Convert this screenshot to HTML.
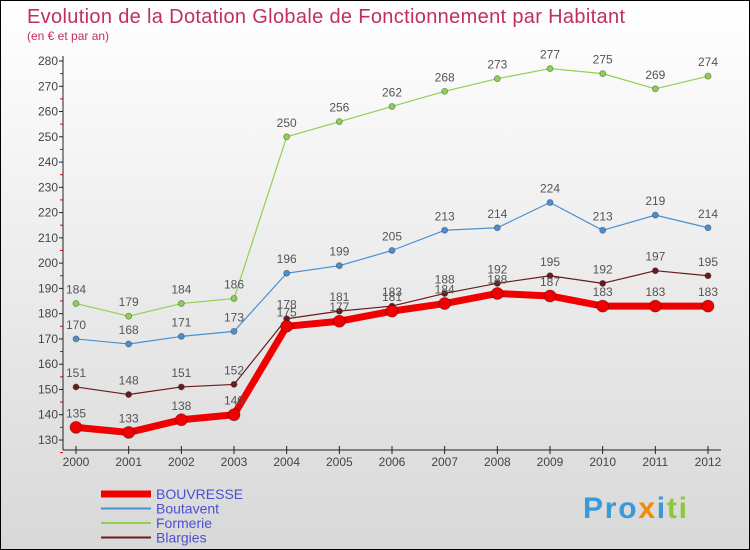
<!DOCTYPE html>
<html><head><meta charset="utf-8"><style>
body{margin:0;}
#c{width:750px;height:550px;position:relative;box-sizing:border-box;border:1px solid #000;background:linear-gradient(#fff,#d8d8d8);overflow:hidden;font-family:"Liberation Sans",sans-serif;}
svg text{font-family:"Liberation Sans",sans-serif;}
</style></head><body>
<div id="c">
<svg id="s" width="750" height="550">
<text x="26" y="22" font-size="20" textLength="598" fill="#c0305a">Evolution de la Dotation Globale de Fonctionnement par Habitant</text>
<text x="26" y="39" font-size="12" fill="#c0305a">(en € et par an)</text>
<g id="g"></g>
<text x="582" y="517" font-size="30" font-weight="bold" textLength="104" fill="#3a9ad9">Pro<tspan fill="#f08a00">x</tspan><tspan fill="#3a9ad9">i</tspan><tspan fill="#8cc83c">ti</tspan></text>
</svg>
</div>
<script>
const years=[2000,2001,2002,2003,2004,2005,2006,2007,2008,2009,2010,2011,2012];
const yTicks=[130,140,150,160,170,180,190,200,210,220,230,240,250,260,270,280];
const bouvresse=[135,133,138,140,175,177,181,184,188,187,183,183,183];
const boutavent=[170,168,171,173,196,199,205,213,214,224,213,219,214];
const formerie=[184,179,184,186,250,256,262,268,273,277,275,269,274];
const blargies=[151,148,151,152,178,181,183,188,192,195,192,197,195];
const NS="http://www.w3.org/2000/svg",g=document.getElementById('g');
const X=i=>75+i*(707-75)/12, Y=v=>439-(v-130)*(439-60)/150;
function el(t,a,n){const e=document.createElementNS(NS,t);for(const k in a)e.setAttribute(k,a[k]);


g.appendChild(e);return e;}
yTicks.forEach(v=>{
el('line',{x1:58,x2:62,y1:Y(v),y2:Y(v),stroke:'#222'},'y-tick');
el('line',{x1:59,x2:62,y1:Y(v)+12.6,y2:Y(v)+12.6,stroke:'#e00'},'y-minor-tick');
const t=el('text',{x:57,y:Y(v)+4,'font-size':12,fill:'#444','text-anchor':'end'},'y-tick-label');t.textContent=v;});
el('line',{x1:62,x2:62,y1:55,y2:449,stroke:'#222'},'y-axis');
el('line',{x1:62,x2:720,y1:449,y2:449,stroke:'#222'},'x-axis');
years.forEach((y,i)=>{el('line',{x1:X(i),x2:X(i),y1:445,y2:453,stroke:'#222'},'x-tick');
const t=el('text',{x:X(i),y:465,'font-size':12,fill:'#444','text-anchor':'middle'},'x-tick-label');t.textContent=y;});
function series(d,c,w,r,name){
el('polyline',{points:d.map((v,i)=>X(i)+','+Y(v)).join(' '),fill:'none',stroke:c,'stroke-width':w,'stroke-linejoin':'round'},name+'-line');
d.forEach((v,i)=>{el('circle',{cx:X(i),cy:Y(v),r:r,fill:c,stroke:'rgba(0,0,0,0.3)'},name+'-point');
const t=el('text',{x:X(i),y:Y(v)-10,'font-size':12,fill:'#555','text-anchor':'middle'},name+'-value-label');t.textContent=v;});}
series(formerie,'#8fd14f',1.2,3,'formerie');
series(boutavent,'#4a90d0',1.2,3,'boutavent');
series(blargies,'#6b1a1a',1.2,3,'blargies');
series(bouvresse,'#f00000',7,6,'bouvresse');
const leg=[['BOUVRESSE','#f00000',7],['Boutavent','#4a90d0',2],['Formerie','#8fd14f',2],['Blargies','#6b1a1a',2]];
leg.forEach((l,i)=>{const y=493+i*14.5;
el('line',{x1:100,x2:150,y1:y,y2:y,stroke:l[1],'stroke-width':l[2]},'legend-swatch');
const t=el('text',{x:155,y:y+5,'font-size':14,fill:'#4a50d0'},'legend-entry');t.textContent=l[0];});
</script>
</body></html>
